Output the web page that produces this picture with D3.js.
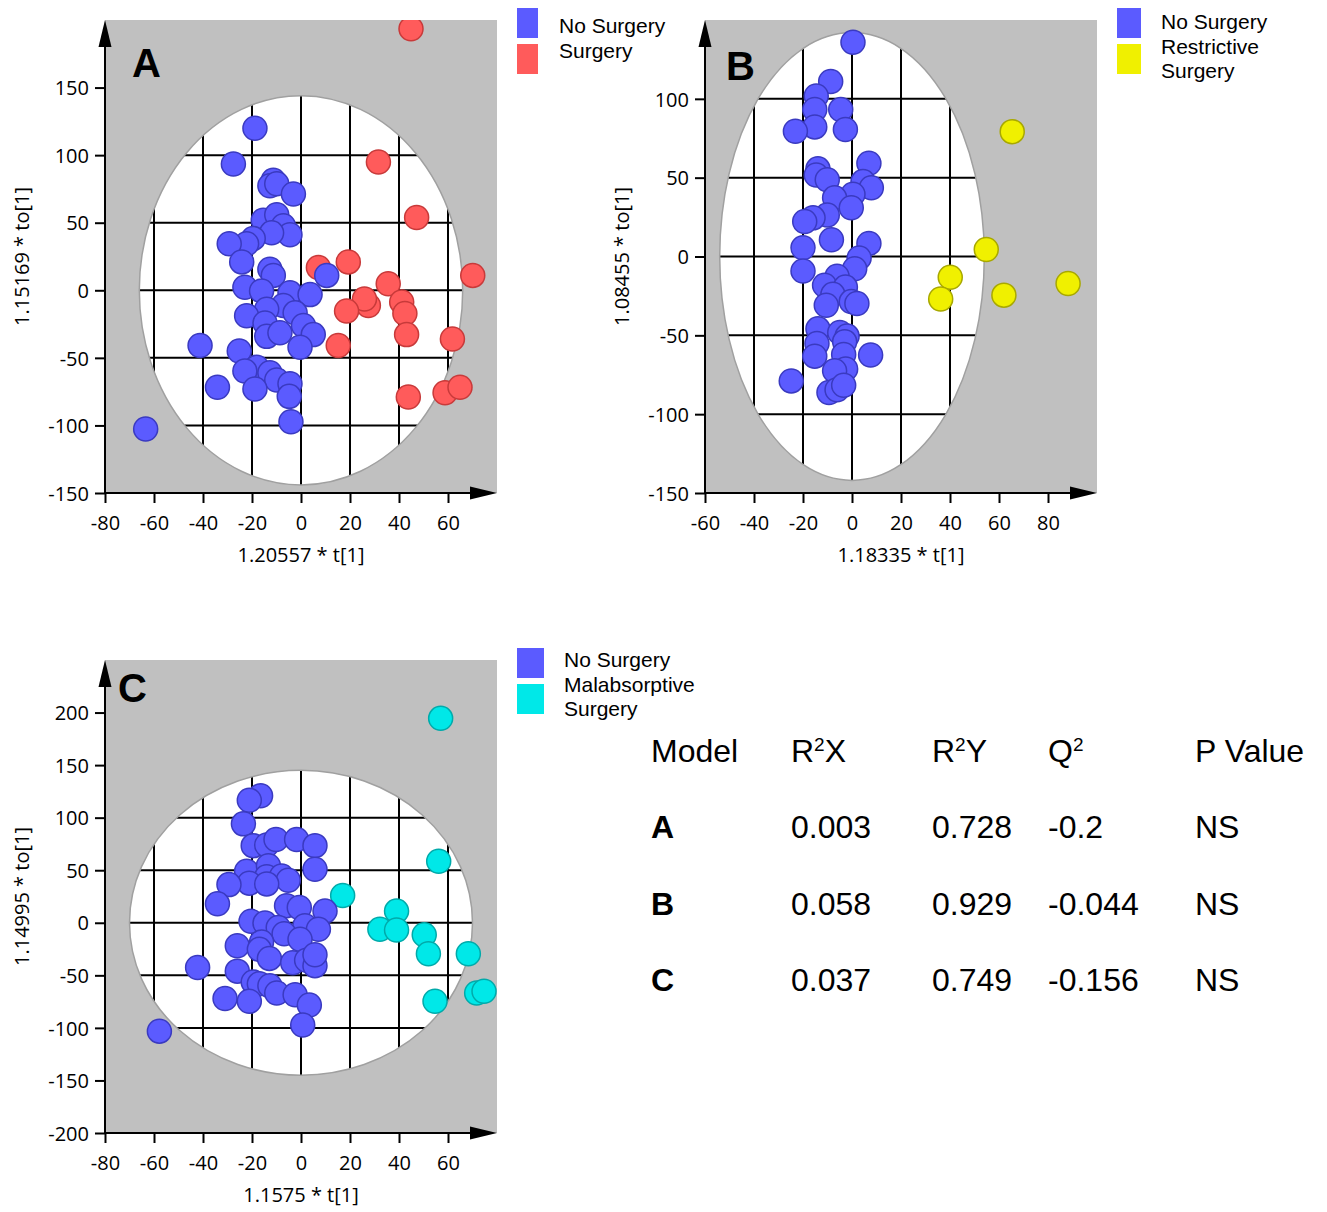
<!DOCTYPE html>
<html><head><meta charset="utf-8">
<script src="https://cdn.jsdelivr.net/npm/d3@7"></script>
<style>body{margin:0;background:#fff} svg{display:block}</style>
</head><body>
<svg id="chart" width="1327" height="1212"></svg>
<script>
// ---------------- DATA ----------------
// Panel A : No Surgery vs Surgery  [t, to]
const aNoSurgery = [[-18.8,119.9],[-27.6,93.5],[-11.3,81.5],[-12.7,77.4],[-9.9,78.8],[-3.1,71.2],
 [-15.4,51.9],[-9.9,55.9],[-7.2,47.8],[-4.5,41.1],[-12.0,42.5],[-19.5,38.4],[-22.2,34.4],[-29.3,34.4],
 [-24.2,21.0],[-12.7,15.6],[-11.3,11.0],[10.5,11.0],[-22.9,2.2],[-16.1,-0.5],[-4.5,-1.9],[3.7,-3.2],
 [-7.2,-11.3],[-14.0,-14.0],[-2.4,-16.7],[-22.2,-18.8],[-14.7,-24.2],[1.0,-26.1],[-14.0,-34.1],
 [-8.6,-31.5],[5.0,-32.8],[-0.4,-42.2],[-41.2,-40.9],[-25.2,-44.9],[-18.1,-57.0],[-22.9,-59.7],
 [-12.7,-61.0],[-9.9,-66.4],[-4.5,-69.1],[-18.8,-73.1],[-34.1,-71.8],[-4.8,-78.5],[-4.1,-97.3],[-63.4,-102.7]];
const aSurgery = [[44.9,193.5],[31.6,94.9],[47.2,53.8],[7.1,16.9],[19.3,21.0],[70.1,11.0],[35.6,4.8],
 [41.1,-8.6],[27.5,-11.3],[25.9,-6.5],[18.6,-15.3],[42.4,-17.2],[43.1,-32.8],[61.8,-36.0],[15.2,-40.9],
 [43.8,-79.0],[58.8,-75.8],[64.9,-71.8]];

// Panel B : No Surgery vs Restrictive Surgery
const bNoSurgery = [[0.4,135.9],[-8.7,111.0],[-14.6,101.8],[-15.2,93.2],[-15.2,82.2],[-23.1,79.4],
 [-4.6,93.2],[-2.7,80.5],[6.9,59.1],[-13.9,55.6],[-14.6,51.7],[-10.1,48.7],[4.5,47.5],[7.9,43.6],
 [0.4,39.5],[-7.1,37.2],[-0.3,30.9],[-10.1,26.3],[-15.9,24.5],[-19.3,22.2],[-8.4,10.6],[6.9,8.3],
 [-20.0,5.5],[2.9,-0.9],[1.1,-7.8],[-20.0,-9.2],[-6.1,-12.5],[-11.2,-18.2],[-2.7,-19.4],[-7.8,-24.0],
 [-0.3,-28.6],[2.0,-29.8],[-10.5,-30.9],[-13.9,-45.9],[-5.0,-48.2],[-2.0,-50.5],[-14.3,-55.2],
 [-3.0,-54.0],[-15.2,-63.2],[-3.4,-62.1],[7.6,-62.5],[-2.6,-71.3],[-7.1,-72.5],[-24.8,-78.9],
 [-9.4,-86.3],[-6.1,-84.5],[-3.4,-81.7]];
const bRestrictive = [[65.4,79.2],[54.8,4.4],[40.1,-13.2],[36.2,-27.0],[62.0,-24.5],[88.2,-17.1]];

// Panel C : No Surgery vs Malabsorptive Surgery
const cNoSurgery = [[-16.5,120.8],[-21.1,116.6],[-23.5,94.1],[-19.5,73.4],[-14.0,74.0],[-10.2,79.2],
 [-1.8,79.2],[5.7,73.4],[-22.2,49.1],[-13.3,54.3],[-14.0,43.9],[-7.9,44.6],[-5.2,40.5],[-21.1,37.7],
 [-29.4,36.3],[-14.0,37.0],[5.7,50.9],[-34.1,18.0],[-5.9,16.3],[-0.7,14.5],[9.8,11.1],[-20.4,1.4],
 [-14.7,-0.3],[-9.3,-4.5],[1.6,-2.8],[7.1,-6.2],[-6.9,-10.4],[-0.4,-15.6],[-16.1,-18.3],[-26.0,-21.8],
 [-17.0,-25.3],[-12.9,-33.9],[-3.4,-38.1],[2.3,-35.6],[5.7,-40.8],[5.7,-30.4],[-42.2,-42.6],
 [-26.0,-46.0],[-19.5,-56.4],[-17.0,-58.1],[-12.7,-59.9],[-9.9,-66.8],[-2.4,-68.5],[-31.0,-72.0],
 [-21.1,-74.7],[3.4,-78.2],[0.7,-97.2],[-57.8,-103.1]];
const cMalabsorptive = [[57.0,194.5],[56.2,58.5],[17.0,26.0],[39.0,11.1],[32.2,-6.2],[39.0,-6.9],
 [50.3,-11.4],[52.0,-29.4],[68.3,-29.4],[71.7,-66.8],[74.7,-65.1],[54.7,-74.7]];

// Axis tick values and titles
const xTicksAC = [-80,-60,-40,-20,0,20,40,60];
const xTicksB  = [-60,-40,-20,0,20,40,60,80];
const yTicksA  = [-150,-100,-50,0,50,100,150];
const yTicksB  = [-150,-100,-50,0,50,100];
const yTicksC  = [-200,-150,-100,-50,0,50,100,150,200];
const xTitles = ["1.20557 * t[1]","1.18335 * t[1]","1.1575 * t[1]"];
const yTitles = ["1.15169 * to[1]","1.08455 * to[1]","1.14995 * to[1]"];
const panelLetters = ["A","B","C"];
// Hotelling T2 ellipse half-axes (t, to)
const ellipseA = [66,144], ellipseB = [54,142], ellipseC = [70,145];

// Legends
const legendA = ["No Surgery","Surgery"];
const legendB = ["No Surgery","Restrictive","Surgery"];
const legendC = ["No Surgery","Malabsorptive","Surgery"];

// Table
const tableHeader = ["Model","R2X","R2Y","Q2","P Value"];
const models = ["A","B","C"];
const r2x = ["0.003","0.058","0.037"];
const r2y = ["0.728","0.929","0.749"];
const q2  = ["-0.2","-0.044","-0.156"];
const pValue = ["NS","NS","NS"];

// ---------------- STYLE ----------------
const colors = {
  blue:{fill:"#5b5bff",stroke:"#3a3ac0"},
  red:{fill:"#ff5b5b",stroke:"#c83a3a"},
  yellow:{fill:"#f0f000",stroke:"#a8a800"},
  cyan:{fill:"#00e8e8",stroke:"#00aaaa"}
};
const tickFont = "'Open Sans', 'Noto Sans', sans-serif";
const arialFont = "'Liberation Sans', Arial, sans-serif";
const fmt = d => String(d);

const svg = d3.select("#chart");
const defs = svg.append("defs");

function drawPanel(p){
  const x = d3.scaleLinear().domain(p.xDomain).range([p.left, p.right]);
  const y = d3.scaleLinear().domain(p.yDomain).range([p.bottom, p.top]);
  const g = svg.append("g");

  defs.append("clipPath").attr("id","plot"+p.id).append("rect")
    .attr("x",p.left).attr("y",p.top).attr("width",p.right-p.left).attr("height",p.bottom-p.top);
  const ecx = x(0), ecy = y(0), erx = x(p.ell[0])-x(0), ery = y(0)-y(p.ell[1]);
  defs.append("clipPath").attr("id","ell"+p.id).append("ellipse")
    .attr("cx",ecx).attr("cy",ecy).attr("rx",erx).attr("ry",ery);

  g.append("rect").attr("x",p.left).attr("y",p.top).attr("width",p.right-p.left)
    .attr("height",p.bottom-p.top).attr("fill","#c0c0c0");
  g.append("ellipse").attr("cx",ecx).attr("cy",ecy).attr("rx",erx).attr("ry",ery).attr("fill","#fff");

  const grid = g.append("g").attr("clip-path",`url(#ell${p.id})`);
  const gx = p.xTicks.filter(v => v > p.xDomain[0]);
  const gy = p.yTicks.filter(v => v > p.yDomain[0]);
  grid.selectAll("line.gx").data(gx).join("line")
    .attr("x1",d=>x(d)).attr("x2",d=>x(d)).attr("y1",p.top).attr("y2",p.bottom)
    .attr("stroke","#000").attr("stroke-width",2);
  grid.selectAll("line.gy").data(gy).join("line")
    .attr("y1",d=>y(d)).attr("y2",d=>y(d)).attr("x1",p.left).attr("x2",p.right)
    .attr("stroke","#000").attr("stroke-width",2);
  g.append("ellipse").attr("cx",ecx).attr("cy",ecy).attr("rx",erx).attr("ry",ery)
    .attr("fill","none").attr("stroke","#a0a0a0").attr("stroke-width",1.5);

  const pts = g.append("g").attr("clip-path",`url(#plot${p.id})`);
  p.series.forEach(s => {
    pts.append("g").selectAll("circle").data(s.data).join("circle")
      .attr("cx",d=>x(d[0])).attr("cy",d=>y(d[1])).attr("r",12)
      .attr("fill",s.color.fill).attr("stroke",s.color.stroke).attr("stroke-width",1.5);
  });

  const xMinor = d3.range(p.xDomain[0], p.xDomain[1]-9, 5);
  const yMinor = d3.range(p.yDomain[0], p.yDomain[1]-5, 10);
  const ax = g.append("g").attr("transform",`translate(0,${p.bottom})`);
  ax.call(d3.axisBottom(x).tickValues(xMinor).tickSize(6).tickFormat(""));
  ax.call(d3.axisBottom(x).tickValues(p.xTicks).tickSize(10).tickFormat(fmt));
  ax.selectAll(".domain").remove();
  ax.selectAll("line").attr("stroke","#000").attr("stroke-width",2);
  ax.selectAll("text").attr("y",37).attr("dy",null).attr("font-family",tickFont)
    .attr("font-size",20).attr("fill","#000");

  const ay = g.append("g").attr("transform",`translate(${p.left},0)`);
  ay.call(d3.axisLeft(y).tickValues(yMinor).tickSize(6).tickFormat(""));
  ay.call(d3.axisLeft(y).tickValues(p.yTicks).tickSize(10).tickFormat(fmt));
  ay.selectAll(".domain").remove();
  ay.selectAll("line").attr("stroke","#000").attr("stroke-width",2);
  ay.selectAll("text").attr("x",-16).attr("dy","0.36em").attr("font-family",tickFont)
    .attr("font-size",20).attr("fill","#000");

  g.append("line").attr("x1",p.left).attr("x2",p.right-20).attr("y1",p.bottom).attr("y2",p.bottom)
    .attr("stroke","#000").attr("stroke-width",2);
  g.append("line").attr("x1",p.left).attr("x2",p.left).attr("y1",p.bottom+1).attr("y2",p.top+20)
    .attr("stroke","#000").attr("stroke-width",2);
  g.append("path").attr("d",`M${p.right},${p.bottom} L${p.right-27},${p.bottom-6.5} L${p.right-27},${p.bottom+6.5}Z`).attr("fill","#000");
  g.append("path").attr("d",`M${p.left},${p.top} L${p.left-6.5},${p.top+27} L${p.left+6.5},${p.top+27}Z`).attr("fill","#000");

  g.append("text").attr("x",(p.left+p.right)/2).attr("y",p.bottom+69).attr("text-anchor","middle")
    .attr("font-family",tickFont).attr("font-size",20).text(p.xTitle);
  g.append("text").attr("transform",`translate(${p.left-76},${(p.top+p.bottom)/2}) rotate(-90)`)
    .attr("text-anchor","middle").attr("font-family",tickFont).attr("font-size",20).text(p.yTitle);
  g.append("text").attr("x",p.letterPos[0]).attr("y",p.letterPos[1]).attr("font-family",arialFont)
    .attr("font-weight","bold").attr("font-size",40).text(p.letter);
}

drawPanel({id:"A", left:105,right:497,top:20,bottom:493, xDomain:[-80,80], yDomain:[-150,200],
  xTicks:xTicksAC, yTicks:yTicksA, ell:ellipseA, xTitle:xTitles[0], yTitle:yTitles[0],
  letter:panelLetters[0], letterPos:[132,77],
  series:[{data:aSurgery,color:colors.red},{data:aNoSurgery,color:colors.blue}]});
drawPanel({id:"B", left:705,right:1097,top:20,bottom:493, xDomain:[-60,100], yDomain:[-150,150],
  xTicks:xTicksB, yTicks:yTicksB, ell:ellipseB, xTitle:xTitles[1], yTitle:yTitles[1],
  letter:panelLetters[1], letterPos:[726,80],
  series:[{data:bRestrictive,color:colors.yellow},{data:bNoSurgery,color:colors.blue}]});
drawPanel({id:"C", left:105,right:497,top:660,bottom:1133, xDomain:[-80,80], yDomain:[-200,250],
  xTicks:xTicksAC, yTicks:yTicksC, ell:ellipseC, xTitle:xTitles[2], yTitle:yTitles[2],
  letter:panelLetters[2], letterPos:[118,702],
  series:[{data:cMalabsorptive,color:colors.cyan},{data:cNoSurgery,color:colors.blue}]});

function drawLegend(x0, y0, sw, labels, swatchColors, textX, baseline0){
  const lg = svg.append("g");
  swatchColors.forEach((c,i)=>{
    lg.append("rect").attr("x",x0).attr("y",y0+i*36).attr("width",sw).attr("height",30).attr("fill",c);
  });
  labels.forEach((t,i)=>{
    lg.append("text").attr("x",textX).attr("y",baseline0+i*24.5).attr("font-family",arialFont)
      .attr("font-size",21).attr("fill","#000").text(t);
  });
}
drawLegend(517, 8, 21, legendA, [colors.blue.fill, colors.red.fill], 559, 33);
drawLegend(1117, 8, 24, legendB, [colors.blue.fill, colors.yellow.fill], 1161, 29);
drawLegend(517, 648, 27, legendC, [colors.blue.fill, colors.cyan.fill], 564, 667);

const colX = [651, 791, 932, 1048, 1195];
const tg = svg.append("g").attr("font-family",arialFont).attr("font-size",32).attr("fill","#000");
tableHeader.forEach((h,i)=>{
  const t = tg.append("text").attr("x",colX[i]).attr("y",762);
  const m = h.match(/^([A-Z])2(.*)$/);
  if(m){
    t.append("tspan").text(m[1]);
    t.append("tspan").attr("font-size",19).attr("dy",-11).text("2");
    t.append("tspan").attr("dy",11).text(m[2]);
  } else t.text(h);
});
const rowY = [838, 915, 991];
models.forEach((m,r)=>{
  tg.append("text").attr("x",colX[0]).attr("y",rowY[r]).attr("font-weight","bold").text(m);
  [r2x[r], r2y[r], q2[r], pValue[r]].forEach((v,c)=>{
    tg.append("text").attr("x",colX[c+1]).attr("y",rowY[r]).text(v);
  });
});
</script>
</body></html>
